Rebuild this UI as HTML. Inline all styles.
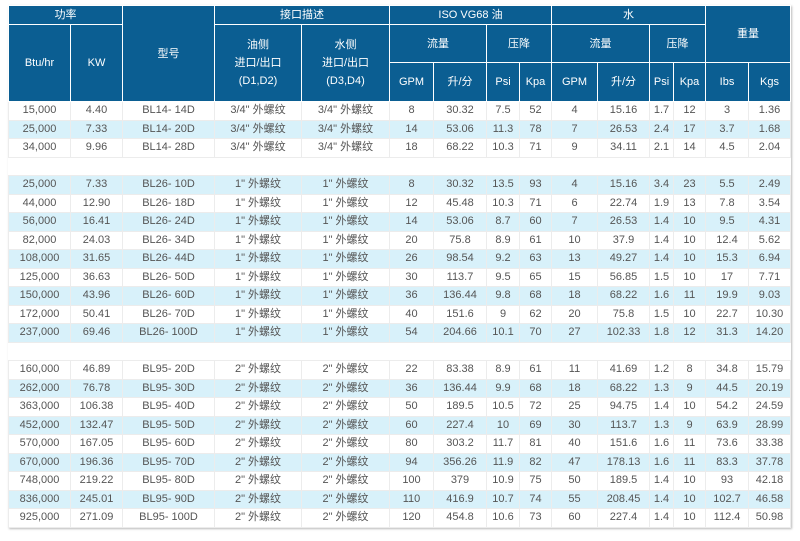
<!DOCTYPE html>
<html><head><meta charset="utf-8"><style>
body{margin:0;background:#fff;width:800px;height:541px;overflow:hidden;font-family:"Liberation Sans","Noto Sans CJK SC",sans-serif;}
table{position:absolute;left:8px;top:5px;border-collapse:collapse;table-layout:fixed;width:782px;box-shadow:1px 1px 2px #bbb;}
th{background:#0b5e92;color:#fff;font-weight:normal;font-size:11px;border:1px solid #fff;padding:0;text-align:center;line-height:18px;}
td{font-size:11px;color:#555;text-align:center;height:17.5px;padding:0;border:1px solid #ececec;line-height:17px;background:#fff;}
tr.b td{background:#d8f1fa;}
.h1 th{height:18px}.h2 th{height:37px}.h3 th{height:38px}
td.e{background:#fff;border-left:none;border-right:none}
</style></head><body>
<table>
<colgroup><col style="width:62px"><col style="width:52px"><col style="width:92px"><col style="width:87px"><col style="width:88px"><col style="width:44px"><col style="width:53px"><col style="width:33px"><col style="width:32px"><col style="width:46px"><col style="width:52px"><col style="width:24px"><col style="width:32px"><col style="width:43px"><col style="width:42px"></colgroup>
<tr class="h1"><th colspan="2">功率</th><th rowspan="3">型号</th><th colspan="2">接口描述</th><th colspan="4">ISO VG68 油</th><th colspan="4">水</th><th colspan="2" rowspan="2">重量</th></tr>
<tr class="h2"><th rowspan="2">Btu/hr</th><th rowspan="2">KW</th><th rowspan="2">油侧<br>进口/出口<br>(D1,D2)</th><th rowspan="2">水侧<br>进口/出口<br>(D3,D4)</th><th colspan="2">流量</th><th colspan="2">压降</th><th colspan="2">流量</th><th colspan="2">压降</th></tr>
<tr class="h3"><th>GPM</th><th>升/分</th><th>Psi</th><th>Kpa</th><th>GPM</th><th>升/分</th><th>Psi</th><th>Kpa</th><th>Ibs</th><th>Kgs</th></tr>
<tr><td>15,000</td><td>4.40</td><td>BL14- 14D</td><td>3/4" 外螺纹</td><td>3/4" 外螺纹</td><td>8</td><td>30.32</td><td>7.5</td><td>52</td><td>4</td><td>15.16</td><td>1.7</td><td>12</td><td>3</td><td>1.36</td></tr>
<tr class="b"><td>25,000</td><td>7.33</td><td>BL14- 20D</td><td>3/4" 外螺纹</td><td>3/4" 外螺纹</td><td>14</td><td>53.06</td><td>11.3</td><td>78</td><td>7</td><td>26.53</td><td>2.4</td><td>17</td><td>3.7</td><td>1.68</td></tr>
<tr><td>34,000</td><td>9.96</td><td>BL14- 28D</td><td>3/4" 外螺纹</td><td>3/4" 外螺纹</td><td>18</td><td>68.22</td><td>10.3</td><td>71</td><td>9</td><td>34.11</td><td>2.1</td><td>14</td><td>4.5</td><td>2.04</td></tr>
<tr><td colspan="15" class="e"></td></tr>
<tr class="b"><td>25,000</td><td>7.33</td><td>BL26- 10D</td><td>1" 外螺纹</td><td>1" 外螺纹</td><td>8</td><td>30.32</td><td>13.5</td><td>93</td><td>4</td><td>15.16</td><td>3.4</td><td>23</td><td>5.5</td><td>2.49</td></tr>
<tr><td>44,000</td><td>12.90</td><td>BL26- 18D</td><td>1" 外螺纹</td><td>1" 外螺纹</td><td>12</td><td>45.48</td><td>10.3</td><td>71</td><td>6</td><td>22.74</td><td>1.9</td><td>13</td><td>7.8</td><td>3.54</td></tr>
<tr class="b"><td>56,000</td><td>16.41</td><td>BL26- 24D</td><td>1" 外螺纹</td><td>1" 外螺纹</td><td>14</td><td>53.06</td><td>8.7</td><td>60</td><td>7</td><td>26.53</td><td>1.4</td><td>10</td><td>9.5</td><td>4.31</td></tr>
<tr><td>82,000</td><td>24.03</td><td>BL26- 34D</td><td>1" 外螺纹</td><td>1" 外螺纹</td><td>20</td><td>75.8</td><td>8.9</td><td>61</td><td>10</td><td>37.9</td><td>1.4</td><td>10</td><td>12.4</td><td>5.62</td></tr>
<tr class="b"><td>108,000</td><td>31.65</td><td>BL26- 44D</td><td>1" 外螺纹</td><td>1" 外螺纹</td><td>26</td><td>98.54</td><td>9.2</td><td>63</td><td>13</td><td>49.27</td><td>1.4</td><td>10</td><td>15.3</td><td>6.94</td></tr>
<tr><td>125,000</td><td>36.63</td><td>BL26- 50D</td><td>1" 外螺纹</td><td>1" 外螺纹</td><td>30</td><td>113.7</td><td>9.5</td><td>65</td><td>15</td><td>56.85</td><td>1.5</td><td>10</td><td>17</td><td>7.71</td></tr>
<tr class="b"><td>150,000</td><td>43.96</td><td>BL26- 60D</td><td>1" 外螺纹</td><td>1" 外螺纹</td><td>36</td><td>136.44</td><td>9.8</td><td>68</td><td>18</td><td>68.22</td><td>1.6</td><td>11</td><td>19.9</td><td>9.03</td></tr>
<tr><td>172,000</td><td>50.41</td><td>BL26- 70D</td><td>1" 外螺纹</td><td>1" 外螺纹</td><td>40</td><td>151.6</td><td>9</td><td>62</td><td>20</td><td>75.8</td><td>1.5</td><td>10</td><td>22.7</td><td>10.30</td></tr>
<tr class="b"><td>237,000</td><td>69.46</td><td>BL26- 100D</td><td>1" 外螺纹</td><td>1" 外螺纹</td><td>54</td><td>204.66</td><td>10.1</td><td>70</td><td>27</td><td>102.33</td><td>1.8</td><td>12</td><td>31.3</td><td>14.20</td></tr>
<tr><td colspan="15" class="e"></td></tr>
<tr><td>160,000</td><td>46.89</td><td>BL95- 20D</td><td>2" 外螺纹</td><td>2" 外螺纹</td><td>22</td><td>83.38</td><td>8.9</td><td>61</td><td>11</td><td>41.69</td><td>1.2</td><td>8</td><td>34.8</td><td>15.79</td></tr>
<tr class="b"><td>262,000</td><td>76.78</td><td>BL95- 30D</td><td>2" 外螺纹</td><td>2" 外螺纹</td><td>36</td><td>136.44</td><td>9.9</td><td>68</td><td>18</td><td>68.22</td><td>1.3</td><td>9</td><td>44.5</td><td>20.19</td></tr>
<tr><td>363,000</td><td>106.38</td><td>BL95- 40D</td><td>2" 外螺纹</td><td>2" 外螺纹</td><td>50</td><td>189.5</td><td>10.5</td><td>72</td><td>25</td><td>94.75</td><td>1.4</td><td>10</td><td>54.2</td><td>24.59</td></tr>
<tr class="b"><td>452,000</td><td>132.47</td><td>BL95- 50D</td><td>2" 外螺纹</td><td>2" 外螺纹</td><td>60</td><td>227.4</td><td>10</td><td>69</td><td>30</td><td>113.7</td><td>1.3</td><td>9</td><td>63.9</td><td>28.99</td></tr>
<tr><td>570,000</td><td>167.05</td><td>BL95- 60D</td><td>2" 外螺纹</td><td>2" 外螺纹</td><td>80</td><td>303.2</td><td>11.7</td><td>81</td><td>40</td><td>151.6</td><td>1.6</td><td>11</td><td>73.6</td><td>33.38</td></tr>
<tr class="b"><td>670,000</td><td>196.36</td><td>BL95- 70D</td><td>2" 外螺纹</td><td>2" 外螺纹</td><td>94</td><td>356.26</td><td>11.9</td><td>82</td><td>47</td><td>178.13</td><td>1.6</td><td>11</td><td>83.3</td><td>37.78</td></tr>
<tr><td>748,000</td><td>219.22</td><td>BL95- 80D</td><td>2" 外螺纹</td><td>2" 外螺纹</td><td>100</td><td>379</td><td>10.9</td><td>75</td><td>50</td><td>189.5</td><td>1.4</td><td>10</td><td>93</td><td>42.18</td></tr>
<tr class="b"><td>836,000</td><td>245.01</td><td>BL95- 90D</td><td>2" 外螺纹</td><td>2" 外螺纹</td><td>110</td><td>416.9</td><td>10.7</td><td>74</td><td>55</td><td>208.45</td><td>1.4</td><td>10</td><td>102.7</td><td>46.58</td></tr>
<tr><td>925,000</td><td>271.09</td><td>BL95- 100D</td><td>2" 外螺纹</td><td>2" 外螺纹</td><td>120</td><td>454.8</td><td>10.6</td><td>73</td><td>60</td><td>227.4</td><td>1.4</td><td>10</td><td>112.4</td><td>50.98</td></tr>
</table>
</body></html>
